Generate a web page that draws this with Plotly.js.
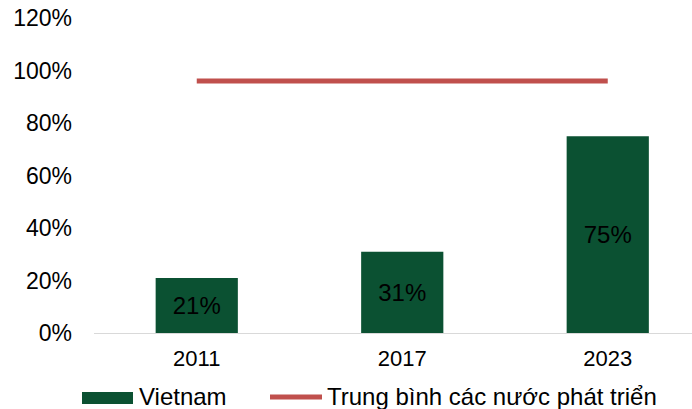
<!DOCTYPE html>
<html>
<head>
<meta charset="utf-8">
<script src="https://cdn.plot.ly/plotly-3.0.1.min.js"></script>
<style>html,body{margin:0;padding:0;background:#fff;}#chart{width:692px;height:409px;}</style>
</head>
<body>
<div id="chart"></div>
<script>
var years = ['2011', '2017', '2023'];
var vietnam = [0.21, 0.31, 0.75];
var developedAvg = [0.96, 0.96, 0.96];
var vietnamLabels = ['21%', '31%', '75%'];
var seriesNames = ['Vietnam', 'Trung bình các nước phát triển'];
var yTicks = [0, 0.2, 0.4, 0.6, 0.8, 1.0, 1.2];
var yTickText = ['0%', '20%', '40%', '60%', '80%', '100%', '120%'];

var FONT = 'Liberation Sans, Arial, sans-serif';
var GREEN = '#0B5132';
var RED = '#C0504D';

// plot area geometry (pixels)
var W = 692, H = 409, ML = 94, MR = 0, MT = 18, MB = 76;
var PW = W - ML - MR, PH = H - MT - MB;
function px(x) { return (x - ML) / PW; }
function py(y) { return (H - MB - y) / PH; }

var traces = [
  {
    type: 'bar', x: years, y: vietnam, name: seriesNames[0],
    marker: {color: GREEN},
    text: vietnamLabels, textposition: 'inside', insidetextanchor: 'middle',
    textfont: {family: FONT, size: 24, color: '#000'},
    hoverinfo: 'none', showlegend: false
  },
  {
    type: 'scatter', mode: 'lines', x: years, y: developedAvg, name: seriesNames[1],
    line: {color: RED, width: 5},
    hoverinfo: 'none', showlegend: false
  }
];

var layout = {
  width: W, height: H,
  margin: {l: ML, r: MR, t: MT, b: MB, autoexpand: false},
  paper_bgcolor: '#fff', plot_bgcolor: '#fff',
  font: {family: FONT, size: 22, color: '#000'},
  bargap: 0.6,
  showlegend: false,
  xaxis: {
    type: 'category', range: [-0.5, 2.41], automargin: false,
    showgrid: false, zeroline: false,
    showline: true, linecolor: '#d9d9d9', linewidth: 1,
    ticks: '', ticklabelstandoff: 6,
    tickfont: {family: FONT, size: 22, color: '#000'}
  },
  yaxis: {
    range: [0, 1.2], tickvals: yTicks, ticktext: yTickText, automargin: false,
    showgrid: false, zeroline: false, showline: false,
    ticks: '', ticklabelstandoff: 21,
    tickfont: {family: FONT, size: 23, color: '#000'}
  },
  shapes: [
    {type: 'rect', xref: 'paper', yref: 'paper',
     x0: px(82), x1: px(133), y0: py(392), y1: py(404),
     fillcolor: GREEN, line: {width: 0}},
    {type: 'line', xref: 'paper', yref: 'paper',
     x0: px(270), x1: px(322), y0: py(397), y1: py(397),
     line: {color: RED, width: 5}}
  ],
  annotations: [
    {xref: 'paper', yref: 'paper', x: px(137), y: py(396), xanchor: 'left', yanchor: 'middle',
     text: seriesNames[0], showarrow: false, font: {family: FONT, size: 24, color: '#000'}},
    {xref: 'paper', yref: 'paper', x: px(325), y: py(396), xanchor: 'left', yanchor: 'middle',
     text: seriesNames[1], showarrow: false, font: {family: FONT, size: 24, color: '#000'}}
  ]
};

Plotly.newPlot('chart', traces, layout, {displayModeBar: false, staticPlot: true});
</script>
</body>
</html>
